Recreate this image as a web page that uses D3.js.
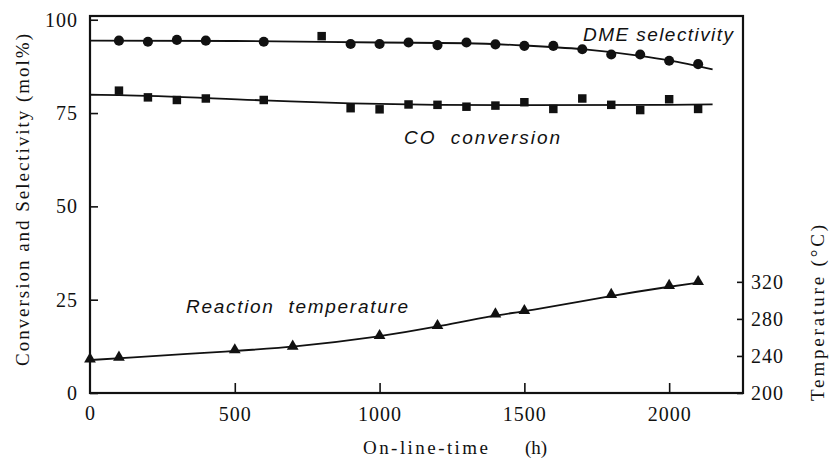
<!DOCTYPE html>
<html>
<head>
<meta charset="utf-8">
<script src="https://cdn.jsdelivr.net/npm/d3@7"></script>
<style>
  body { margin: 0; background: #fff; }
  text { fill: #111; }
  .serif { font-family: "Liberation Serif", "DejaVu Serif", serif; }
  .note { font-family: "Liberation Sans", Arial, sans-serif; font-style: italic; font-size: 19px; }
</style>
</head>
<body>
<svg id="chart" width="830" height="460"></svg>
<script>
// DME selectivity (mol%), circles
const dmeHours = [100, 200, 300, 400, 600, 900, 1000, 1100, 1200, 1300, 1400, 1500, 1600, 1700, 1800, 1900, 2000, 2100];
const dme      = [94.4, 94.1, 94.6, 94.4, 94.1, 93.5, 93.5, 93.9, 93.2, 93.9, 93.4, 93.0, 93.0, 92.1, 90.7, 90.7, 89.0, 88.1];
// one odd point on the DME line drawn as a square
const dmeOddHours = [800];
const dmeOdd      = [95.6];
// DME fitted curve
const dmeFitHours = [0, 500, 1000, 1300, 1500, 1700, 1900, 2000, 2150];
const dmeFit      = [94.4, 94.3, 93.9, 93.7, 93.1, 92.1, 90.3, 89.1, 86.7];

// CO conversion (mol%), squares
const coHours = [100, 200, 300, 400, 600, 900, 1000, 1100, 1200, 1300, 1400, 1500, 1600, 1700, 1800, 1900, 2000, 2100];
const co      = [81.0, 79.2, 78.5, 78.9, 78.5, 76.3, 76.0, 77.3, 77.2, 76.7, 77.0, 77.9, 76.1, 78.9, 77.2, 75.8, 78.7, 76.1];
const coFitHours = [0, 100, 600, 900, 1200, 1500, 2000, 2150];
const coFit      = [79.9, 79.8, 78.4, 77.6, 77.2, 77.1, 77.2, 77.3];

// reaction temperature (°C), triangles
const tempHours = [0, 100, 500, 700, 1000, 1200, 1400, 1500, 1800, 2000, 2100];
const temp      = [235.6, 237.5, 245.4, 249.4, 260.8, 271.6, 284.2, 287.8, 305.1, 314.8, 319.1];

const xTicks = [500, 1000, 1500, 2000];
const yTicks = [0, 25, 50, 75, 100];
const tTicks = [200, 240, 280, 320];

const svg = d3.select("#chart");
const plotL = 90, plotR = 743, plotT = 16, plotB = 393;

const x = d3.scaleLinear().domain([0, 2255]).range([plotL, plotR]);
const y = d3.scaleLinear().domain([0, 101]).range([plotB, plotT]);
const yT = d3.scaleLinear().domain([200, 607]).range([plotB, plotT]);

// frame
svg.append("rect")
    .attr("x", plotL).attr("y", plotT)
    .attr("width", plotR - plotL).attr("height", plotB - plotT)
    .attr("fill", "none").attr("stroke", "#111").attr("stroke-width", 2.2);

// axes, ticks pointing inward
let xAxis = svg.append("g").attr("transform", `translate(0,${plotB})`)
    .call(d3.axisBottom(x).tickValues(xTicks).tickSize(-10).tickPadding(14).tickFormat(d3.format("d")));
let yAxis = svg.append("g").attr("transform", `translate(${plotL},0)`)
    .call(d3.axisLeft(y).tickValues(yTicks).tickSize(-8).tickPadding(6));
let tAxis = svg.append("g").attr("transform", `translate(${plotR},0)`)
    .call(d3.axisRight(yT).tickValues(tTicks).tickSize(-6).tickPadding(8));

[xAxis, yAxis, tAxis].forEach(a => {
    a.select(".domain").remove();
    a.selectAll("line").attr("stroke", "#111").attr("stroke-width", 1.6);
    a.selectAll("text").attr("class", "serif").style("font-size", "20px").style("letter-spacing", "1px");
});
yAxis.selectAll(".tick text").attr("dx", "-0.3em");

// "0" at x origin
svg.append("text").attr("class", "serif")
    .attr("x", x(0)).attr("y", 420)
    .attr("text-anchor", "middle").style("font-size", "20px")
    .text("0");

// axis titles
svg.append("text").attr("class", "serif")
    .attr("transform", "translate(29,200) rotate(-90)")
    .attr("text-anchor", "middle").style("font-size", "19px")
    .attr("textLength", 332).attr("lengthAdjust", "spacing")
    .text("Conversion and Selectivity (mol%)");
svg.append("text").attr("class", "serif")
    .attr("transform", "translate(824,313) rotate(-90)")
    .attr("text-anchor", "middle").style("font-size", "19px")
    .attr("textLength", 176).attr("lengthAdjust", "spacing")
    .text("Temperature (°C)");
svg.append("text").attr("class", "serif")
    .attr("x", 363).attr("y", 454).style("font-size", "19px")
    .attr("textLength", 125).attr("lengthAdjust", "spacing")
    .text("On-line-time");
svg.append("text").attr("class", "serif")
    .attr("x", 525).attr("y", 454).style("font-size", "19px")
    .text("(h)");

// series labels
svg.append("text").attr("class", "note")
    .attr("x", 583).attr("y", 41)
    .attr("textLength", 150).attr("lengthAdjust", "spacing")
    .text("DME selectivity");
svg.append("text").attr("class", "note")
    .attr("x", 404).attr("y", 144).style("white-space", "pre")
    .attr("textLength", 156).attr("lengthAdjust", "spacing")
    .text("CO  conversion");
svg.append("text").attr("class", "note")
    .attr("x", 186).attr("y", 313).style("white-space", "pre")
    .attr("textLength", 222).attr("lengthAdjust", "spacing")
    .text("Reaction  temperature");

// curves
const pct = d3.line().x(d => x(d[0])).y(d => y(d[1])).curve(d3.curveMonotoneX);
const tmp = d3.line().x(d => x(d[0])).y(d => yT(d[1])).curve(d3.curveBasis);

svg.append("path").datum(d3.zip(dmeFitHours, dmeFit))
    .attr("d", pct).attr("fill", "none").attr("stroke", "#111").attr("stroke-width", 1.8);
svg.append("path").datum(d3.zip(coFitHours, coFit))
    .attr("d", pct).attr("fill", "none").attr("stroke", "#111").attr("stroke-width", 1.8);
svg.append("path").datum(d3.zip(tempHours, temp))
    .attr("d", tmp).attr("fill", "none").attr("stroke", "#111").attr("stroke-width", 1.8);

// markers
const circle = d3.symbol().type(d3.symbolCircle).size(80);
const square = d3.symbol().type(d3.symbolSquare).size(72);
const tri = d3.symbol().type(d3.symbolTriangle).size(60);

svg.append("g").selectAll("path").data(d3.zip(dmeHours, dme)).join("path")
    .attr("d", circle).attr("fill", "#111")
    .attr("transform", d => `translate(${x(d[0])},${y(d[1])})`);
svg.append("g").selectAll("path").data(d3.zip(dmeOddHours, dmeOdd)).join("path")
    .attr("d", square).attr("fill", "#111")
    .attr("transform", d => `translate(${x(d[0])},${y(d[1])})`);
svg.append("g").selectAll("path").data(d3.zip(coHours, co)).join("path")
    .attr("d", square).attr("fill", "#111")
    .attr("transform", d => `translate(${x(d[0])},${y(d[1])})`);
svg.append("g").selectAll("path").data(d3.zip(tempHours, temp)).join("path")
    .attr("d", tri).attr("fill", "#111")
    .attr("transform", d => `translate(${x(d[0])},${yT(d[1]) - 1})`);
</script>
</body>
</html>
